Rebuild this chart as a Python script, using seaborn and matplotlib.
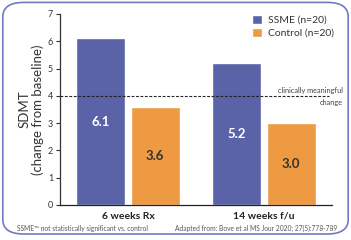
import pandas as pd
import seaborn as sns
import matplotlib
import matplotlib.pyplot as plt
from matplotlib.patches import FancyBboxPatch
matplotlib.use('Agg')

# Data
timepoints = ['6 weeks Rx', '14 weeks f/u']
groups = ['SSME (n=20)', 'Control (n=20)']
ssme_values = [6.1, 5.2]
control_values = [3.6, 3.0]
threshold = 4

blue = '#5a62a8'
orange = '#ee9a42'
border = '#6d7cc0'

df = pd.DataFrame({
    'timepoint': timepoints * 2,
    'group': [groups[0]] * 2 + [groups[1]] * 2,
    'value': ssme_values + control_values,
})

sns.set_style('white')
plt.rcParams['font.family'] = ['Lato', 'DejaVu Sans']

fig = plt.figure(figsize=(3.51, 2.4), dpi=100)
fig.patches.append(FancyBboxPatch((0.008, 0.025), 0.984, 0.965,
                                  boxstyle='round,pad=0,rounding_size=0.06',
                                  transform=fig.transFigure, fill=False,
                                  edgecolor=border, linewidth=1.2))
ax = fig.add_axes([0.171, 0.146, 0.775, 0.796])

sns.barplot(data=df, x='timepoint', y='value', hue='group',
            palette=[blue, orange], saturation=1, width=0.8, gap=0.1, ax=ax)

# value labels in the middle of each bar
for container, col in zip(ax.containers, ['white', '#333333']):
    ax.bar_label(container, fmt='%.1f', label_type='center', color=col,
                 fontsize=9.5, fontweight='bold')

ax.axhline(threshold, color='#222222', linestyle=(0, (2.5, 1.5)), linewidth=0.8,
           xmax=0.99, zorder=5)
ax.text(1.04, 0.60, 'clinically meaningful', transform=ax.transAxes,
        ha='right', va='center', fontsize=5.3, color='#444444')
ax.text(1.04, 0.535, 'change', transform=ax.transAxes,
        ha='right', va='center', fontsize=5.3, color='#444444')

ax.set_xlim(-0.5, 1.5)
ax.set_ylim(0, 7)
ax.set_yticks(range(8))
ax.set_xlabel('')
ax.set_ylabel('SDMT\n(change from baseline)', fontsize=9.5, color='#333333',
              linespacing=1.05, labelpad=3)
ax.tick_params(axis='y', direction='out', length=3, width=0.8, labelsize=6.5,
               colors='#333333', left=True, pad=2)
ax.tick_params(axis='x', length=0, labelsize=7.5, pad=5, colors='#222222')
for lab in ax.get_xticklabels():
    lab.set_fontweight('bold')
sns.despine(ax=ax)
ax.spines['left'].set_color('#333333')
ax.spines['bottom'].set_color('#222222')
ax.spines['left'].set_linewidth(0.9)
ax.spines['bottom'].set_linewidth(0.9)

handles, labels = ax.get_legend_handles_labels()
ax.legend(handles, labels, loc='upper right', bbox_to_anchor=(1.04, 1.045),
          frameon=False, fontsize=7.5, handlelength=1.0, handleheight=1.0,
          handletextpad=0.5, labelspacing=0.25, labelcolor='#333333')

fig.text(0.048, 0.033, 'SSME\u2122 not statistically significant vs. control',
         fontsize=4.8, color='#555555', va='bottom')
fig.text(0.962, 0.033, 'Adapted from: Bove et al MS Jour 2020; 27(5):778-789',
         fontsize=4.8, color='#555555', va='bottom', ha='right')

fig.savefig('out.png', dpi=100)
